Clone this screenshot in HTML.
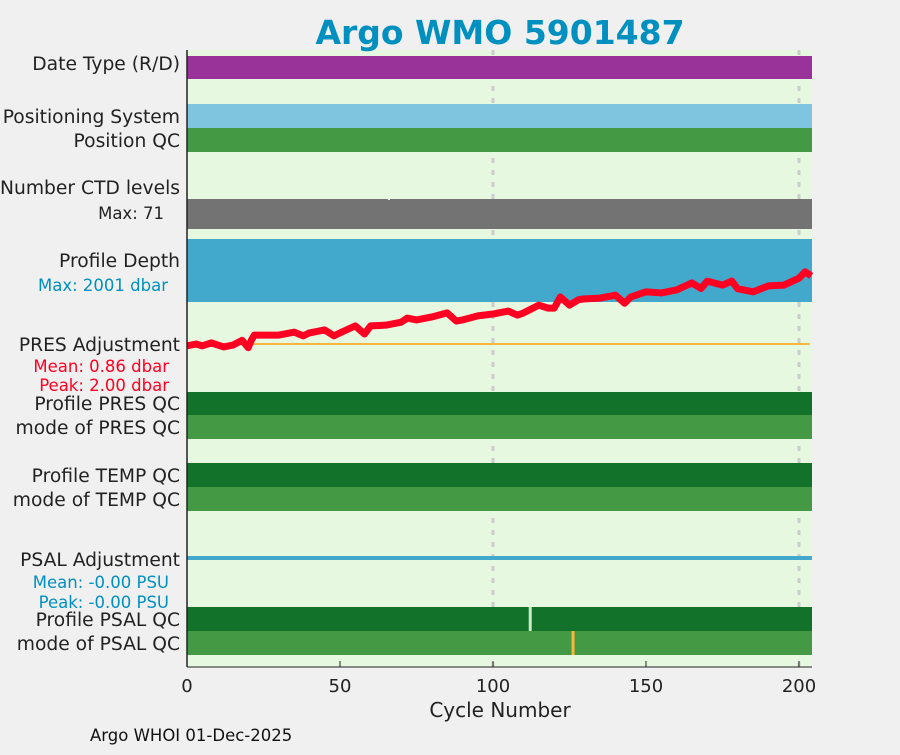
<!DOCTYPE html>
<html><head><meta charset="utf-8"><style>
body{margin:0;background:#f0f0f0;font-family:"Liberation Sans","DejaVu Sans",sans-serif}
svg text{font-family:"DejaVu Sans","Liberation Sans",sans-serif}
</style></head><body>
<svg id="c" width="900" height="750"></svg>
<script>
const cycles=[0,3,5,8,12,15,18,20,21,22,25,30,35,38,40,45,48,50,55,58,60,65,70,72,75,80,85,88,90,95,100,105,108,110,115,118,120,122,125,128,130,135,140,143,145,150,155,160,165,168,170,175,178,180,185,190,195,200,202,204];
const presAdj=[-0.05,0,-0.05,0.03,-0.08,-0.03,0.1,-0.1,0.1,0.24,0.24,0.24,0.32,0.22,0.3,0.38,0.22,0.3,0.49,0.27,0.49,0.51,0.59,0.7,0.65,0.73,0.84,0.62,0.65,0.76,0.81,0.89,0.78,0.84,1.05,0.97,0.97,1.27,1.05,1.2,1.22,1.24,1.32,1.1,1.27,1.41,1.38,1.46,1.65,1.5,1.7,1.59,1.7,1.49,1.41,1.57,1.59,1.78,1.95,1.84];
const xTicks=[0,50,100,150,200];
const NS="http://www.w3.org/2000/svg";
const svg=document.getElementById('c');
const X0=187,X1=812,Y0=50,Y1=667;
const xs=v=>X0+v*(799-X0)/200;
const ys=v=>344-v*37;
function el(t,a,p){const e=document.createElementNS(NS,t);for(const k in a)e.setAttribute(k,a[k]);(p||svg).appendChild(e);return e;}
function tx(x,y,s,a){const e=el('text',Object.assign({x:x,y:y},a));e.textContent=s;return e;}
let bg=el('rect',{x:X0,y:Y0,width:X1-X0,height:Y1-Y0,fill:'#e6f8e0'});


[100,200].forEach(v=>{let g=el('line',{x1:xs(v),x2:xs(v),y1:Y0,y2:Y1,stroke:'#cccccc','stroke-width':3,'stroke-dasharray':'5,7'});

});
const bands=[['date-type-band',56,79,'#993399'],['positioning-system-band',104,128,'#7fc5e0'],['position-qc-band',128,152,'#449944'],['ctd-levels-band',199,229,'#737373'],['profile-depth-band',239,302,'#42a9cc'],['pres-qc-band',392,415,'#12722a'],['mode-pres-qc-band',415,439,'#449944'],['temp-qc-band',463,487,'#12722a'],['mode-temp-qc-band',487,511,'#449944'],['psal-qc-band',607,631,'#12722a'],['mode-psal-qc-band',631,655,'#449944']];
bands.forEach(b=>{let r=el('rect',{x:X0,y:b[1],width:X1-X0,height:b[2]-b[1],fill:b[3]});

});
el('rect',{x:xs(112)-1,y:607,width:3,height:24,fill:'#cfe8c8'});
el('rect',{x:xs(126)-1,y:631,width:3,height:24,fill:'#f9b53c'});
el('rect',{x:xs(66)-1,y:196,width:2,height:4,fill:'#e6f8e0'});
let o=el('line',{x1:X0,x2:810,y1:ys(0),y2:ys(0),stroke:'#f9b53c','stroke-width':2});


let ps=el('line',{x1:X0,x2:812,y1:558,y2:558,stroke:'#42a9cc','stroke-width':4});


let pl=el('polyline',{points:cycles.map((c,i)=>xs(c)+','+ys(presAdj[i])).join(' '),fill:'none',stroke:'#ff0022','stroke-width':7,'stroke-linejoin':'round'});


el('line',{x1:X0,x2:X0,y1:Y0,y2:Y1,stroke:'#222','stroke-width':1.5});
el('line',{x1:X0,x2:X1,y1:Y1,y2:Y1,stroke:'#222','stroke-width':1});
xTicks.forEach(v=>{el('line',{x1:xs(v),x2:xs(v),y1:Y1,y2:Y1-6,stroke:'#222'});
let t=tx(xs(v),692,String(v),{'text-anchor':'middle','font-size':18,fill:'#222'});

});
[['Date Type (R/D)',70],['Positioning System',123],['Position QC',147],['Number CTD levels',194],['Profile Depth',267],['PRES Adjustment',351],['Profile PRES QC',410],['mode of PRES QC',434],['Profile TEMP QC',482],['mode of TEMP QC',506],['PSAL Adjustment',566],['Profile PSAL QC',626],['mode of PSAL QC',650]].forEach(l=>{
let t=tx(180,l[1],l[0],{'text-anchor':'end','font-size':18.7,fill:'#222'});

});
[['Max: 71',164,219,'#222'],['Max: 2001 dbar',168,291,'#0090c0'],['Mean: 0.86 dbar',169,372,'#ff0022'],['Peak: 2.00 dbar',169,391,'#ff0022'],['Mean: -0.00 PSU',169,588,'#0090c0'],['Peak: -0.00 PSU',169,608,'#0090c0']].forEach(l=>{
let t=tx(l[1],l[2],l[0],{'text-anchor':'end','font-size':16.5,fill:l[3]});

});
let ti=tx(500,44,'Argo WMO 5901487',{'text-anchor':'middle','font-size':33,'font-weight':'bold',fill:'#0090c0'});


let xt=tx(500,717,'Cycle Number',{'text-anchor':'middle','font-size':20,fill:'#222'});


let ft=tx(90,741,'Argo WHOI 01-Dec-2025',{'font-size':16.5,fill:'#111'});


</script></body></html>
